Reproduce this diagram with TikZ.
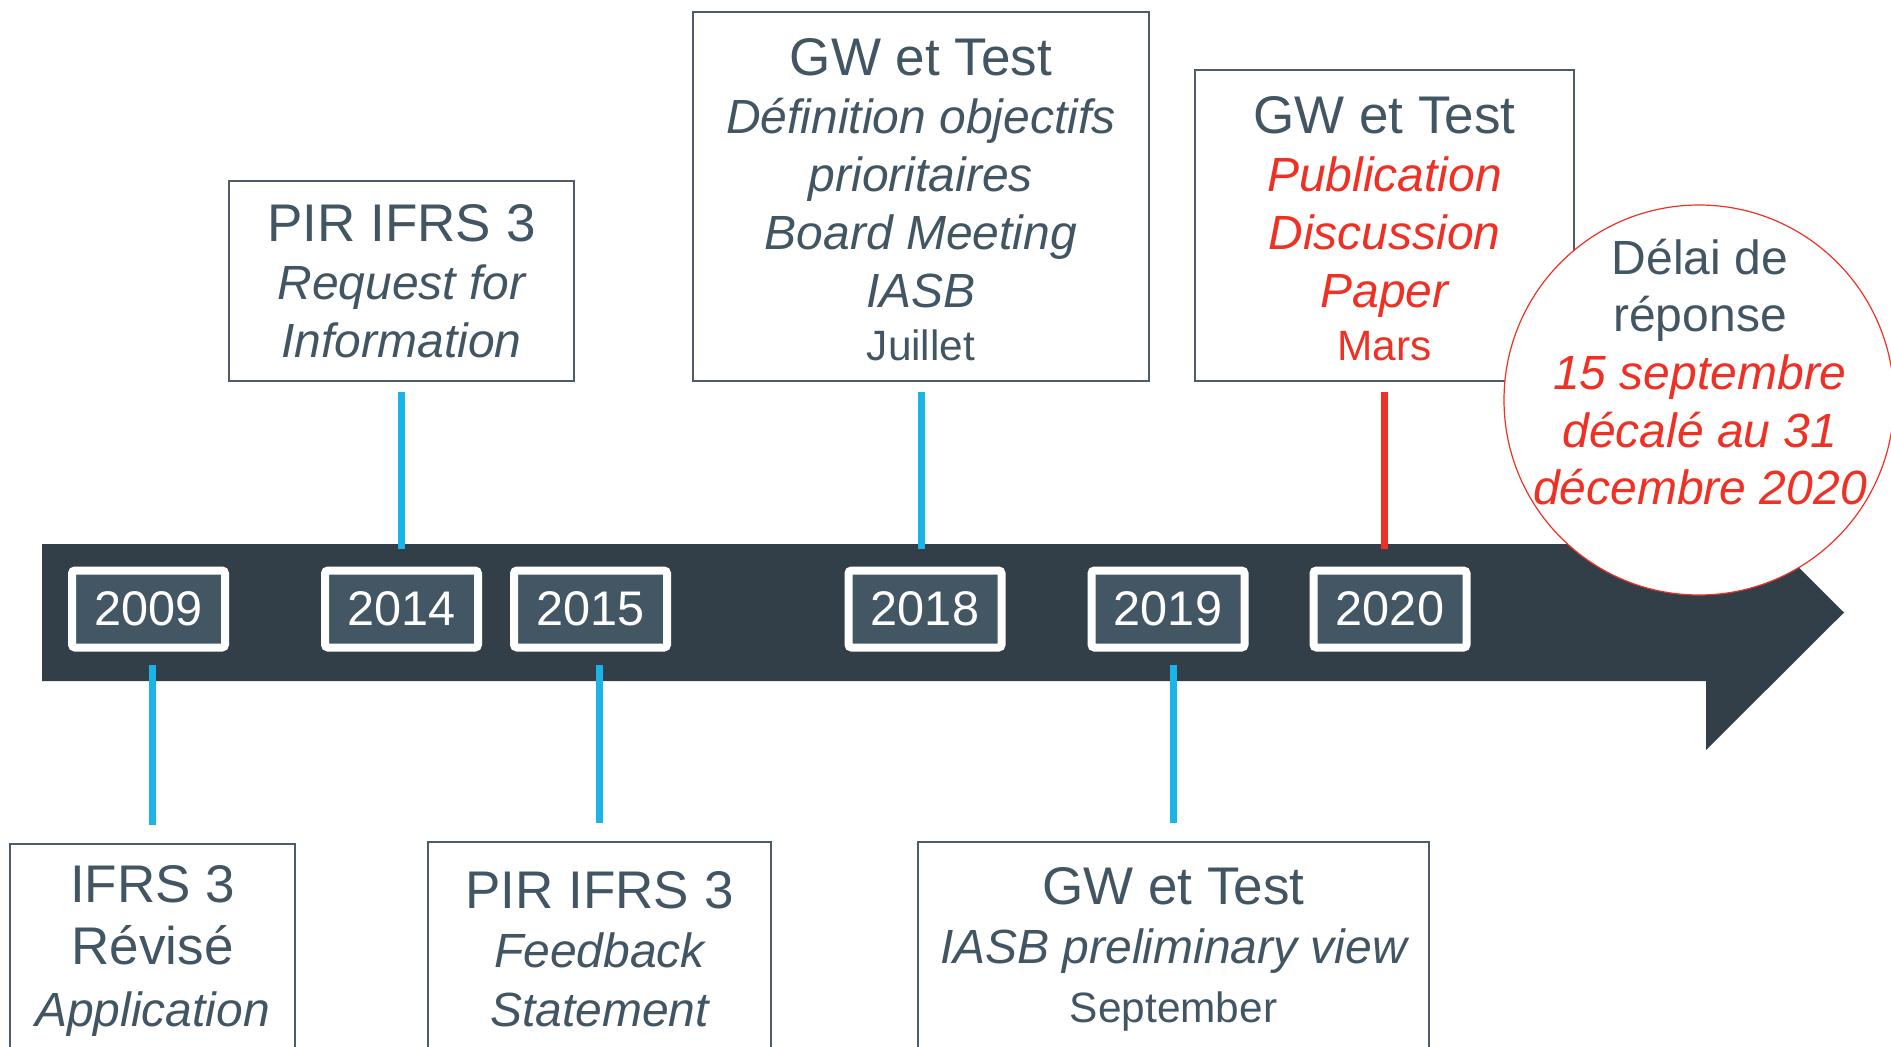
\documentclass[tikz,border=0pt]{standalone}
\usepackage{fontspec}
\setmainfont{Liberation Sans}

\definecolor{ink}{HTML}{425563}
\definecolor{band}{HTML}{333F48}
\definecolor{yearfill}{HTML}{435664}
\definecolor{boxline}{HTML}{4D5C68}
\definecolor{tick}{HTML}{1AB4E8}
\definecolor{alert}{HTML}{EE3124}

\newcommand\toptxt{\fontsize{26.5pt}{29pt}\selectfont}
\newcommand\lowtxt{\fontsize{26.5pt}{31pt}\selectfont}
\newcommand\lowtighttxt{\fontsize{26.5pt}{29.5pt}\selectfont}
\newcommand\bubbletxt{\fontsize{24pt}{28.8pt}\selectfont}
\newcommand\monthtxt{\fontsize{21.2pt}{29pt}\selectfont}
\newcommand\emline[1]{{\fontsize{24pt}{29pt}\selectfont\itshape #1}}
% taller first line: pushes the heading block a little lower in its box
\newcommand\headstrut{\rule{0pt}{22pt}}

\tikzset{
  event/.style={draw=boxline, line width=1pt, fill=white, text=ink,
    align=center, inner sep=0pt},
  topevent/.style={event, font=\toptxt},
  lowevent/.style={event, font=\lowtxt},
  yearbox/.style={fill=yearfill, draw=white, line width=4pt,
    rounded corners=1.5pt, minimum width=76.5pt, minimum height=38.5pt,
    inner sep=0pt, text=white, font=\fontsize{24.3pt}{28pt}\selectfont},
  tickline/.style={draw=tick, line width=3.5pt},
  hotline/.style={draw=alert, line width=3.5pt},
}

\begin{document}
\begin{tikzpicture}[x=0.5pt, y=-0.5pt]
  \useasboundingbox (0,0) rectangle (1891,1046);
  \clip (0,0) rectangle (1891,1046);

  % timeline band with its arrow head
  \fill[band] (42,544) -- (1706,544) -- (1706,475) -- (1844,612.5)
    -- (1706,750) -- (1706,681) -- (42,681) -- cycle;

  % events above the band
  \node[topevent, minimum width=172.5pt, minimum height=100pt] (pir14) at (401.5,281)
    {PIR IFRS 3\\\emline{Request for}\\\emline{Information}};
  \node[topevent, minimum width=228pt, minimum height=184.5pt] (gw18) at (921,196.5)
    {\headstrut GW et Test\\\emline{D\'efinition objectifs}\\\emline{prioritaires}\\
     \emline{Board Meeting}\\\emline{IASB}\\[-2.5pt]{\monthtxt Juillet}};
  \node[topevent, minimum width=189.5pt, minimum height=155.5pt] (gw20) at (1384.5,225.5)
    {\headstrut GW et Test\\{\color{alert}\emline{Publication}}\\{\color{alert}\emline{Discussion}}\\
     {\color{alert}\emline{Paper}}\\[-2.5pt]{\color{alert}\monthtxt Mars}};

  % events below the band
  \node[lowevent, minimum width=142.5pt, minimum height=107pt] (ifrs09) at (152.5,951)
    {IFRS 3\\R\'evis\'e\\\emline{Application}};
  \node[lowevent, font=\lowtighttxt, minimum width=171.5pt, minimum height=107pt] (pir15) at (599.5,949)
    {PIR IFRS 3\\\emline{Feedback}\\\emline{Statement}};
  \node[lowevent, font=\lowtighttxt, minimum width=255.5pt, minimum height=107pt] (gw19) at (1173.5,949)
    {GW et Test\\\emline{IASB preliminary view}\\{\monthtxt September}};

  % years on the band
  \node[yearbox] (y2009) at (148.5,609) {2009};
  \node[yearbox] (y2014) at (401.5,609) {2014};
  \node[yearbox] (y2015) at (590.5,609) {2015};
  \node[yearbox] (y2018) at (925,609) {2018};
  \node[yearbox] (y2019) at (1168,609) {2019};
  \node[yearbox] (y2020) at (1390,609) {2020};

  % ticks joining events and years
  \draw[tickline] ([yshift=-5pt]pir14.south) -- ([yshift=9pt]pir14.south |- y2014.north);
  \draw[tickline] ([yshift=-5pt]gw18.south) -- ([yshift=9pt]gw18.south |- y2018.north);
  \draw[hotline]  ([yshift=-5pt]gw20.south) -- ([yshift=9pt]gw20.south |- y2020.north);
  \draw[tickline] ([yshift=-6.5pt]ifrs09.north |- y2009.south) -- ([yshift=9pt]ifrs09.north);
  \draw[tickline] ([yshift=-6.5pt]pir15.north |- y2015.south) -- ([yshift=9pt]pir15.north);
  \draw[tickline] ([yshift=-6.5pt]gw19.north |- y2019.south) -- ([yshift=9pt]gw19.north);

  % response deadline bubble
  \node[circle, draw=alert, line width=0.6pt, fill=white, minimum size=195pt,
    inner sep=0pt] (delai) at (1699,400) {};
  \node[align=center, text=ink, font=\bubbletxt, inner sep=0pt] (delaitxt) at (1700,372)
    {D\'elai de\\r\'eponse\\{\color{alert}\itshape 15 septembre}\\
     {\color{alert}\itshape d\'ecal\'e au 31}\\{\color{alert}\itshape d\'ecembre 2020}};
\end{tikzpicture}
\end{document}
